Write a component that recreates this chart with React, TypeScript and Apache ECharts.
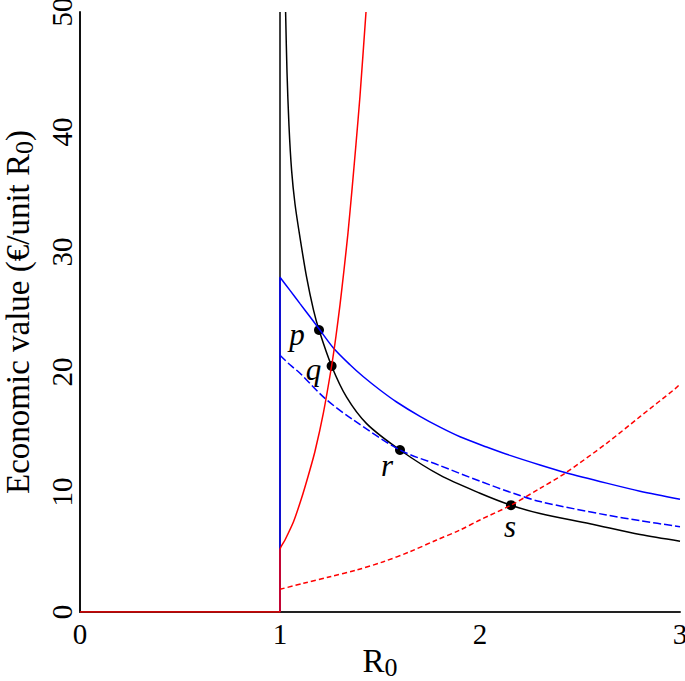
import React, { useEffect, useRef } from "react";
import * as echarts from "echarts";

// ---- data ----
const blackAsymR0 = [1, 1];
const blackAsymValue = [0, 50];

const blackR0 = [1.028, 1.035, 1.045, 1.058, 1.075, 1.1, 1.133, 1.167, 1.195, 1.258, 1.333, 1.433, 1.6, 1.8, 2.0, 2.155, 2.3, 2.55, 2.8, 3.0];
const blackValue = [50, 45, 40.5, 36.8, 34.0, 31.2, 27.9, 25.2, 23.5, 20.5, 17.9, 15.7, 13.5, 11.4, 9.9, 8.9, 8.2, 7.35, 6.45, 5.9];

const blueSolidR0 = [1, 1, 1.05, 1.1, 1.15, 1.195, 1.267, 1.35, 1.417, 1.5, 1.583, 1.7, 1.8, 1.9, 2.033, 2.15, 2.3, 2.425, 2.633, 2.8, 3.0];
const blueSolidValue = [0, 27.9, 26.8, 25.7, 24.6, 23.6, 22.0, 20.6, 19.6, 18.5, 17.5, 16.3, 15.4, 14.6, 13.75, 13.05, 12.25, 11.63, 10.74, 10.07, 9.4];

const blueDashedR0 = [1, 1.05, 1.1, 1.225, 1.367, 1.6, 1.8, 2.0, 2.167, 2.3, 2.633, 2.8, 3.0];
const blueDashedValue = [21.4, 20.6, 19.9, 17.8, 16.0, 13.5, 12.2, 10.9, 9.89, 9.2, 8.08, 7.61, 7.11];

const redSolidR0 = [0, 1, 1, 1.025, 1.067, 1.108, 1.142, 1.175, 1.217, 1.258, 1.28, 1.3, 1.32, 1.34, 1.36, 1.38, 1.4, 1.43];
const redSolidValue = [0, 0, 5.2, 6.0, 7.5, 9.5, 11.4, 13.4, 16.6, 20.5, 23.0, 25.6, 28.5, 31.6, 35.2, 39.0, 43.0, 50];

const redDashedR0 = [1, 1.117, 1.25, 1.383, 1.517, 1.65, 1.783, 1.9, 2.0, 2.155, 2.3, 2.425, 2.633, 2.8, 2.975, 3.0];
const redDashedValue = [1.89, 2.39, 2.94, 3.5, 4.19, 5.03, 6.0, 6.83, 7.67, 8.9, 10.3, 11.56, 14.06, 16.28, 18.6, 19.0];

const pointNames = ["p", "q", "r", "s"];
const pointR0 = [1.195, 1.258, 1.6, 2.155];
const pointValue = [23.5, 20.5, 13.5, 8.9];

const xTicks = [0, 1, 2, 3];
const yTicks = [0, 10, 20, 30, 40, 50];

// ---- styling ----
const labelOffsets: [number, number][] = [[-22, 4], [-18, 3], [-13, 15], [-1, 21]];
const FONT = "'Liberation Serif', 'Times New Roman', 'DejaVu Serif', serif";

const zip = (xs: number[], ys: number[]) => xs.map((x, i) => [x, ys[i]]);

export default function App() {
  const ref = useRef<HTMLDivElement>(null);
  useEffect(() => {
    if (!ref.current) return;
    const chart = echarts.init(ref.current, null, { renderer: "svg" });
    const lineBase = { type: "line", showSymbol: false, symbol: "none", silent: true };
    const nameStyle = {
      fontFamily: FONT,
      fontSize: 33,
      color: "#000",
      rich: { sub: { fontFamily: FONT, fontSize: 26, color: "#000", verticalAlign: "top", padding: [13, 0, 0, 0] } },
    };
    chart.setOption({
      animation: false,
      backgroundColor: "#ffffff",
      grid: { left: 80, right: 5, top: 12, bottom: 69, containLabel: false, outerBoundsMode: "none" },
      xAxis: {
        type: "value",
        min: xTicks[0],
        max: xTicks[xTicks.length - 1],
        interval: 1,
        name: "R{sub|0}",
        nameLocation: "middle",
        nameGap: 29,
        nameMoveOverlap: false,
        nameTextStyle: nameStyle,
        axisLine: { show: true, lineStyle: { color: "#222", width: 2 } },
        axisTick: { show: false },
        splitLine: { show: false },
        axisLabel: { fontFamily: FONT, fontSize: 29, color: "#000", margin: 7 },
      },
      yAxis: {
        type: "value",
        min: yTicks[0],
        max: yTicks[yTicks.length - 1],
        interval: 10,
        name: "Economic value (€/unit R{sub|0})",
        nameLocation: "middle",
        nameRotate: 90,
        nameGap: 43,
        nameTextStyle: nameStyle,
        axisLine: { show: true, lineStyle: { color: "#111", width: 2 } },
        axisTick: { show: false },
        splitLine: { show: false },
        axisLabel: { fontFamily: FONT, fontSize: 29, color: "#000", rotate: 90, margin: 4 },
      },
      series: [
        { ...lineBase, data: zip(blackAsymR0, blackAsymValue), lineStyle: { color: "#000", width: 1.5 } },
        { ...lineBase, data: zip(blackR0, blackValue), smooth: 0.3, lineStyle: { color: "#000", width: 1.5 } },
        { ...lineBase, data: zip(blueDashedR0, blueDashedValue), smooth: 0.3, lineStyle: { color: "#0000ff", width: 1.5, type: [8, 3] } },
        { ...lineBase, data: zip(blueSolidR0, blueSolidValue), smooth: 0.3, lineStyle: { color: "#0000ff", width: 1.5 } },
        { ...lineBase, data: zip(redDashedR0, redDashedValue), smooth: 0.3, lineStyle: { color: "#ff0000", width: 1.5, type: [5, 3] } },
        { ...lineBase, data: zip(redSolidR0, redSolidValue), smooth: 0.2, lineStyle: { color: "#ff0000", width: 1.5 } },
        {
          type: "scatter",
          symbol: "circle",
          symbolSize: 10,
          silent: true,
          itemStyle: { color: "#000", opacity: 1 },
          data: pointR0.map((x, i) => ({
            value: [x, pointValue[i]],
            label: {
              show: true,
              formatter: pointNames[i],
              position: "inside",
              offset: labelOffsets[i],
              fontFamily: FONT,
              fontStyle: "italic",
              fontSize: 31,
              color: "#000",
            },
          })),
        },
      ],
    });
    return () => chart.dispose();
  }, []);
  return <div ref={ref} style={{ position: "fixed", left: 0, top: 0, width: 685, height: 681 }} />;
}
